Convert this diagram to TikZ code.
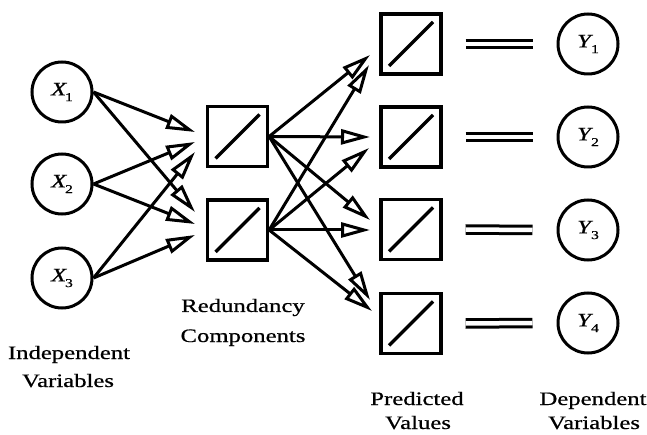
\documentclass[tikz,border=0pt]{standalone}
\usepackage{fontspec}
\setmainfont{Liberation Serif}[FakeBold=0.6]
\usetikzlibrary{arrows.meta}
\newcommand{\wide}[1]{\scalebox{1.3}[1]{#1}}
\newcommand{\sbs}[1]{\kern-1.5pt\raisebox{-0.3em}{\fontsize{12}{12}\selectfont #1}}
\begin{document}
\begin{tikzpicture}[x=1pt,y=-1pt,
  var/.style={circle, draw, line width=3pt, minimum size=60pt, inner sep=0pt, font=\fontsize{19}{19}\selectfont},
  comp/.style={draw, line width=3.3pt, minimum width=60pt, minimum height=60pt, inner sep=0pt,
    path picture={\draw[line width=3.3pt] ([shift={(8pt,8pt)}]path picture bounding box.south west) -- ([shift={(-8pt,-8pt)}]path picture bounding box.north east);}},
  lbl/.style={anchor=base, inner sep=0pt, font=\fontsize{19}{19}\selectfont},
  arr/.style={line width=3pt, -{Triangle[open, length=29pt, width=15pt]}},
  eq/.style={double, double distance=4.5pt, line width=3pt}]
\useasboundingbox (0,0) rectangle (647,435);
% independent variables
\node[var] (X1) at (62,92) {\wide{\textit{X}\sbs{1}}};
\node[var] (X2) at (62,184) {\wide{\textit{X}\sbs{2}}};
\node[var] (X3) at (62,278) {\wide{\textit{X}\sbs{3}}};
% redundancy components
\node[comp] (B1) at (237.5,136.5) {};
\node[comp] (B2) at (237.5,230) {};
% predicted values
\node[comp] (P1) at (411,44) {};
\node[comp] (P2) at (411,137) {};
\node[comp] (P3) at (411,229.5) {};
\node[comp] (P4) at (411,323.5) {};
% dependent variables
\node[var] (Y1) at (588,44) {\wide{\textit{Y}\sbs{1}}};
\node[var] (Y2) at (588,137) {\wide{\textit{Y}\sbs{2}}};
\node[var] (Y3) at (588,230) {\wide{\textit{Y}\sbs{3}}};
\node[var] (Y4) at (588,323) {\wide{\textit{Y}\sbs{4}}};
% arrow tip points
\coordinate (b1a) at (195,132);
\coordinate (b1b) at (195,142);
\coordinate (b1c) at (195,152);
\coordinate (b2a) at (195,212);
\coordinate (b2b) at (195,224);
\coordinate (b2c) at (195,235);
\coordinate (p1a) at (370,55);
\coordinate (p1b) at (369,65);
\coordinate (p2a) at (370,137);
\coordinate (p2b) at (369,148);
\coordinate (p3a) at (370,220);
\coordinate (p3b) at (370,230);
\coordinate (p4a) at (370,300);
\coordinate (p4b) at (372,311);
% connectors X -> B
\draw[arr] (X1.east) -- (b1a);
\draw[arr] (X2.east) -- (b1b);
\draw[arr] (X3.east) -- (b1c);
\draw[arr] (X1.east) -- (b2a);
\draw[arr] (X2.east) -- (b2b);
\draw[arr] (X3.east) -- (b2c);
% connectors B -> P
\draw[arr] (B1.east) -- (p1a);
\draw[arr] (B2.east) -- (p1b);
\draw[arr] (B1.east) -- (p2a);
\draw[arr] (B2.east) -- (p2b);
\draw[arr] (B1.east) -- (p3a);
\draw[arr] (B2.east) -- (p3b);
\draw[arr] (B1.east) -- (p4a);
\draw[arr] (B2.east) -- (p4b);
% equalities
\draw[eq] ([xshift=23pt]P1.east) -- ([xshift=-24pt]Y1.west);
\draw[eq] ([xshift=23pt]P2.east) -- ([xshift=-24pt]Y2.west);
\draw[eq] ([xshift=23pt]P3.east) -- ([xshift=-24pt]Y3.west);
\draw[eq] ([xshift=23pt]P4.east) -- ([xshift=-24pt]Y4.west);
% labels
\node[lbl] (l1) at (69,359) {\wide{Independent}};
\node[lbl] (l2) at (68,387) {\wide{Variables}};
\node[lbl] (l3) at (243,312) {\wide{Redundancy}};
\node[lbl] (l4) at (243,342) {\wide{Components}};
\node[lbl] (l5) at (417,405) {\wide{Predicted}};
\node[lbl] (l6) at (418,429) {\wide{Values}};
\node[lbl] (l7) at (593,405) {\wide{Dependent}};
\node[lbl] (l8) at (594,429) {\wide{Variables}};
\end{tikzpicture}
\end{document}
